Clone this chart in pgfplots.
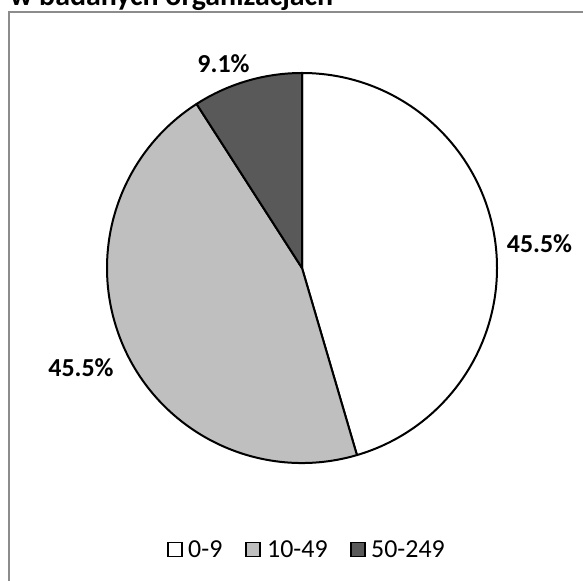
\documentclass[border=0pt]{standalone}
\usepackage{pgfplots}
\pgfplotsset{compat=1.18}
\usepackage{pgfplotstable}
\usepackage{fontspec}
\setmainfont{Carlito}

\definecolor{sliceA}{RGB}{255,255,255}
\definecolor{sliceB}{RGB}{191,191,191}
\definecolor{sliceC}{RGB}{89,89,89}
\definecolor{framegray}{RGB}{140,140,140}

% share of organisations by employment size class (%)
\pgfplotstableread{
size share
0-9 45.5
10-49 45.5
50-249 9.1
}\sizeshares

\pgfplotstablegetelem{0}{share}\of\sizeshares \let\shareA\pgfplotsretval
\pgfplotstablegetelem{1}{share}\of\sizeshares \let\shareB\pgfplotsretval
\pgfplotstablegetelem{2}{share}\of\sizeshares \let\shareC\pgfplotsretval

% slice boundaries, clockwise from 12 o'clock
\pgfmathsetmacro\total{\shareA+\shareB+\shareC}
\pgfmathsetmacro\angA{90}
\pgfmathsetmacro\angB{\angA-360*\shareA/\total}
\pgfmathsetmacro\angC{\angB-360*\shareB/\total}
\pgfmathsetmacro\angD{\angC-360*\shareC/\total}

\newcommand\labelfont{\bfseries\fontsize{26}{31}\selectfont}
\newcommand\legendfont{\fontsize{26}{31}\selectfont}

\begin{document}
\begin{tikzpicture}
\begin{axis}[
  at={(0,0)}, anchor=south west,
  width=583bp, height=581bp, scale only axis,
  xmin=0, xmax=583, ymin=0, ymax=581,
  axis lines=none, clip=false,
]
  % chart frame
  \draw[framegray, line width=2bp] (axis cs:9,-20) -- (axis cs:9,568.5) -- (axis cs:620,568.5);

  % title (second line)
  \node[anchor=base west, inner sep=0, font=\bfseries\fontsize{30}{36}\selectfont]
    at (axis cs:10,575.3) {w badanych organizacjach};

  % pie slices
  \filldraw[fill=sliceA, draw=black, line width=2bp, line join=round]
    (axis cs:302,313) -- ++(\angA:195bp) arc[start angle=\angA, end angle=\angB, radius=195bp] -- cycle;
  \filldraw[fill=sliceB, draw=black, line width=2bp, line join=round]
    (axis cs:302,313) -- ++(\angB:195bp) arc[start angle=\angB, end angle=\angC, radius=195bp] -- cycle;
  \filldraw[fill=sliceC, draw=black, line width=2bp, line join=round]
    (axis cs:302,313) -- ++(\angC:195bp) arc[start angle=\angC, end angle=\angD, radius=195bp] -- cycle;

  % value labels
  \node[anchor=base, inner sep=0, font=\labelfont] at (axis cs:539.5,328) {\shareA\%};
  \node[anchor=base, inner sep=0, font=\labelfont] at (axis cs:81,204) {\shareB\%};
  \node[anchor=base, inner sep=0, font=\labelfont] at (axis cs:223.5,508) {\shareC\%};

  % legend
  \filldraw[fill=sliceA, draw=black, line width=1.8bp] (axis cs:168,24.5) rectangle (axis cs:182,38.5);
  \node[anchor=base west, inner sep=0, font=\legendfont] at (axis cs:188,24) {0-9};
  \filldraw[fill=sliceB, draw=black, line width=1.8bp] (axis cs:246,24.5) rectangle (axis cs:260,38.5);
  \node[anchor=base west, inner sep=0, font=\legendfont] at (axis cs:267,24) {10-49};
  \filldraw[fill=sliceC, draw=black, line width=1.8bp] (axis cs:351,24.5) rectangle (axis cs:365,38.5);
  \node[anchor=base west, inner sep=0, font=\legendfont] at (axis cs:371,24) {50-249};
\end{axis}
\pgfresetboundingbox
\useasboundingbox (0,0) rectangle (583bp,581bp);
\end{tikzpicture}
\end{document}
